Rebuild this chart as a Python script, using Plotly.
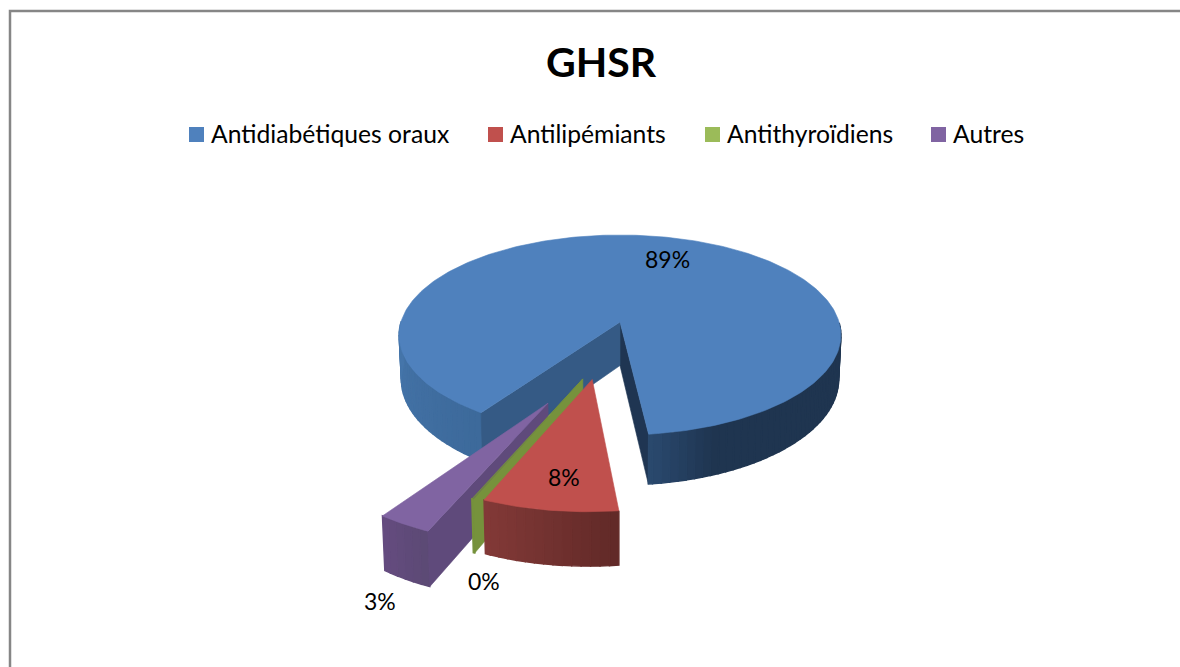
import numpy as np
import plotly.graph_objects as go

# chart values
categories = ["Antidiabétiques oraux", "Antilipémiants", "Antithyroïdiens", "Autres"]
values = [88.6, 8.1, 0.1, 3.2]
colors = ["#4f81bd", "#c0504d", "#9bbb59", "#8064a2"]

# look of the exploded 3D pie, in page pixels
START_ANGLE = 214.5
CX, CY = 620, 322
SCALE_X, SCALE_Y = 219, 98.3
PERSP = 0.13
DEPTH = 43.5
offsets = [(0, 0), (-0.118, 0.543), (-0.158, 0.538), (-0.297, 0.746)]
wall_colors = ["#355a85", "#76923c", "#76923c", "#5f4a7b"]
label_pos = [(667, 259), (564, 477), (484, 581), (380, 601)]
legend_x = [196.5, 495.5, 712.5, 938.5]

# side shading: angle stops and colours for each slice
side_stops = [
    ([90, 158, 173.5, 214.5, 270], ["#1f3550", "#1f3550", "#2b4a6f", "#3d6a9b", "#4676ab"]),
    ([173.5, 203], ["#612a28", "#843a38"]),
    ([202.6, 203], ["#76923c", "#76923c"]),
    ([203, 214.5], ["#5c4a75", "#654c80"]),
]


def project(x, y, level=0.0):
    w = 1 - PERSP * y
    return CX + SCALE_X * x / w * (1 - 0.01 * level), CY + SCALE_Y * y / w + DEPTH * level / w


def rim(angle, offset):
    rad = np.radians(angle)
    return offset[0] + np.sin(rad), offset[1] - np.cos(rad)


def to_rgb(hex_color):
    return [int(hex_color[i:i + 2], 16) for i in (1, 3, 5)]


def shade(angle, stops):
    rgb = [to_rgb(c) for c in stops[1]]
    mix = [np.interp(angle, stops[0], [c[i] for c in rgb]) for i in range(3)]
    return "rgb(%d,%d,%d)" % tuple(mix)


fig = go.Figure()


def add_poly(points, color, stroke=0.6):
    xs = [p[0] for p in points]
    ys = [p[1] for p in points]
    fig.add_trace(go.Scatter(
        x=xs + xs[:1], y=ys + ys[:1], mode="lines", fill="toself", fillcolor=color,
        line=dict(color=color, width=stroke), hoverinfo="skip", showlegend=False,
    ))


def add_wall(angle, offset, color):
    top_apex = project(*offset)
    low_apex = project(*offset, 1)
    edge = rim(angle, offset)
    add_poly([top_apex, project(*edge), project(*edge, 1), low_apex], color)


def add_side(start, end, offset, stops):
    steps = np.arange(start, end, 2.0).tolist() + [end]
    for a, b in zip(steps[:-1], steps[1:]):
        mid = ((a + b) / 2) % 360
        # far side is hidden by the top face
        if mid < 90 or mid > 270:
            continue
        pa, pb = rim(a, offset), rim(b, offset)
        # thicker stroke so neighbouring strips leave no seam
        add_poly([project(*pa), project(*pb), project(*pb, 1), project(*pa, 1)], shade(mid, stops), 1.4)


def add_top(start, end, offset, color):
    arc = np.linspace(start, end, max(int(end - start), 2) + 1)
    add_poly([project(*offset)] + [project(*rim(a, offset)) for a in arc], color)


# slice angles, clockwise from 12 o'clock
spans = [v / sum(values) * 360 for v in values]
edges = START_ANGLE + np.cumsum([0] + spans)

# painter's order: back slice first, red in front
for i in [0, 3, 2, 1]:
    start, end = edges[i], edges[i + 1]
    if i == 0:
        add_wall(end, offsets[i], "#1f3552")
    add_side(start, end, offsets[i], side_stops[i])
    if i != 1:
        add_wall(start, offsets[i], wall_colors[i])
    add_top(start, end, offsets[i], wall_colors[i] if i == 2 else colors[i])

# chart frame
fig.add_trace(go.Scatter(
    x=[10, 10, 1180], y=[667, 11, 11], mode="lines",
    line=dict(color="#868686", width=2.5), hoverinfo="skip", showlegend=False,
))

# legend squares
fig.add_trace(go.Scatter(
    x=legend_x, y=[134.5] * 4, mode="markers",
    marker=dict(symbol="square", size=15, color=colors), hoverinfo="skip", showlegend=False,
))

annotations = []
for name, lx in zip(categories, legend_x):
    annotations.append(dict(
        x=lx + 12, y=133, text=name, showarrow=False, xanchor="left", yanchor="middle",
        font=dict(family="Lato", size=24.7, color="black"),
    ))
for v, (px, py) in zip(values, label_pos):
    annotations.append(dict(
        x=px, y=py, text="%d%%" % round(v), showarrow=False,
        font=dict(family="Lato", size=23, color="black"),
    ))

fig.update_layout(
    width=1180, height=667,
    margin=dict(l=0, r=0, t=0, b=0),
    paper_bgcolor="white", plot_bgcolor="white",
    title=dict(
        text="<b>GHSR</b>", x=601 / 1180, y=1 - 63 / 667, xanchor="center", yanchor="middle",
        font=dict(family="Lato", size=41, color="black"),
    ),
    xaxis=dict(range=[0, 1180], visible=False),
    yaxis=dict(range=[667, 0], visible=False),
    annotations=annotations,
    showlegend=False,
)

fig.write_html(
    "out.html",
    config={"displayModeBar": False},
    post_script="document.body.style.margin='0';document.body.style.overflow='hidden';",
)
